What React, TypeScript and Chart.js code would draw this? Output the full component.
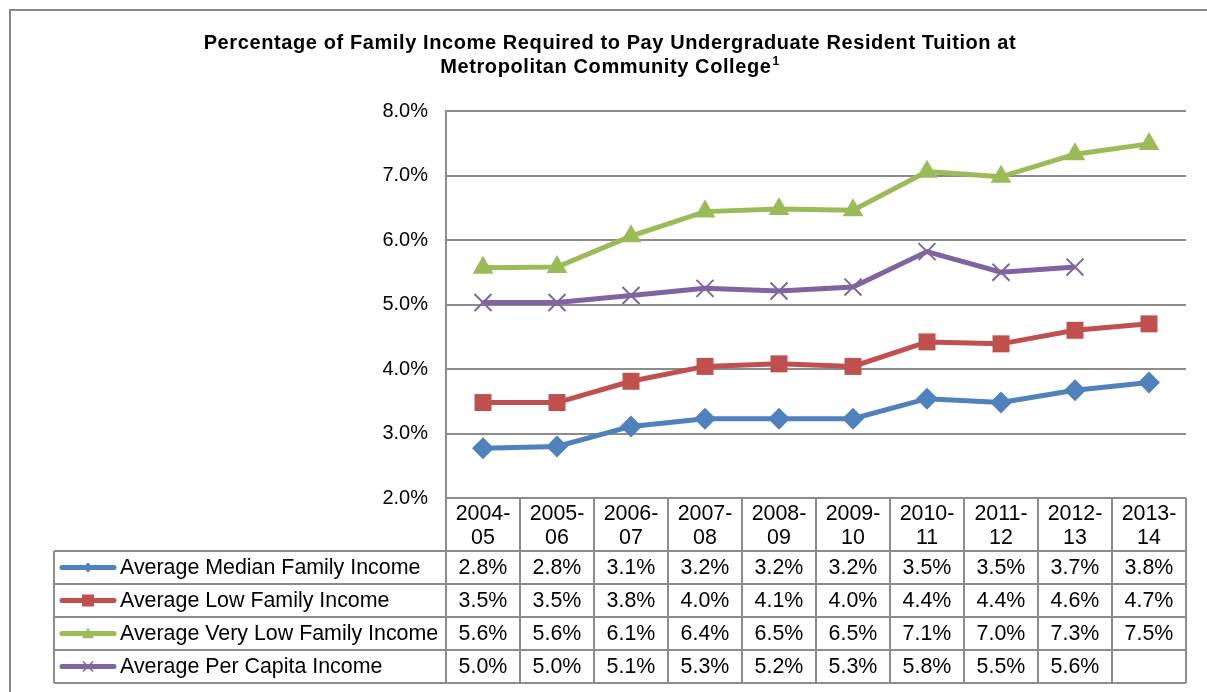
import React, { useEffect, useRef } from 'react';
import { Chart, registerables } from 'chart.js';

Chart.register(...registerables);

// ---------- data ----------
const categories = ['2004-05', '2005-06', '2006-07', '2007-08', '2008-09', '2009-10', '2010-11', '2011-12', '2012-13', '2013-14'];

const seriesNames = [
  'Average Median Family Income',
  'Average Low Family Income',
  'Average Very Low Family Income',
  'Average Per Capita Income',
];

const medianValues = [2.77, 2.8, 3.11, 3.23, 3.23, 3.23, 3.54, 3.48, 3.67, 3.79];
const lowValues = [3.48, 3.48, 3.81, 4.04, 4.08, 4.04, 4.42, 4.39, 4.6, 4.7];
const veryLowValues = [5.57, 5.58, 6.06, 6.44, 6.48, 6.46, 7.06, 6.98, 7.33, 7.49];
const perCapitaValues: (number | null)[] = [5.03, 5.03, 5.14, 5.25, 5.21, 5.27, 5.82, 5.5, 5.58, null];

const medianLabels = ['2.8%', '2.8%', '3.1%', '3.2%', '3.2%', '3.2%', '3.5%', '3.5%', '3.7%', '3.8%'];
const lowLabels = ['3.5%', '3.5%', '3.8%', '4.0%', '4.1%', '4.0%', '4.4%', '4.4%', '4.6%', '4.7%'];
const veryLowLabels = ['5.6%', '5.6%', '6.1%', '6.4%', '6.5%', '6.5%', '7.1%', '7.0%', '7.3%', '7.5%'];
const perCapitaLabels = ['5.0%', '5.0%', '5.1%', '5.3%', '5.2%', '5.3%', '5.8%', '5.5%', '5.6%', ''];

const titleLine1 = 'Percentage of Family Income Required to Pay Undergraduate Resident Tuition at';
const titleLine2 = 'Metropolitan Community College';
const titleSup = '1';

const yMin = 2;
const yMax = 8;
const yStep = 1;

// ---------- styles ----------
const FONT = '"Liberation Sans", Arial, Helvetica, sans-serif';
const GRID = '#8c8c8c';
const COLORS = ['#4F81BD', '#C0504D', '#9BBB59', '#8064A2'];
const POINT_STYLES = ['rectRot', 'rect', 'triangle', 'crossRot'];
const POINT_RADII = [11, 12, 12, 12];

const seriesValues = [medianValues, lowValues, veryLowValues, perCapitaValues];
const seriesLabels = [medianLabels, lowLabels, veryLowLabels, perCapitaLabels];

function drawMiniMarker(ctx: CanvasRenderingContext2D, style: string, x: number, y: number, color: string) {
  ctx.save();
  ctx.fillStyle = color;
  ctx.strokeStyle = color;
  ctx.beginPath();
  if (style === 'rectRot') {
    const r = 5;
    ctx.moveTo(x, y - r);
    ctx.lineTo(x + r, y);
    ctx.lineTo(x, y + r);
    ctx.lineTo(x - r, y);
    ctx.closePath();
    ctx.fill();
  } else if (style === 'rect') {
    const s = 6;
    ctx.rect(x - s, y - s, 2 * s, 2 * s);
    ctx.fill();
  } else if (style === 'triangle') {
    const r = 6;
    ctx.moveTo(x, y - r);
    ctx.lineTo(x + r, y + r * 0.8);
    ctx.lineTo(x - r, y + r * 0.8);
    ctx.closePath();
    ctx.fill();
  } else {
    const r = 5;
    ctx.lineWidth = 1.5;
    ctx.moveTo(x - r, y - r);
    ctx.lineTo(x + r, y + r);
    ctx.moveTo(x + r, y - r);
    ctx.lineTo(x - r, y + r);
    ctx.stroke();
  }
  ctx.restore();
}

const tablePlugin = {
  id: 'tableAndTitle',
  beforeDraw(chart: any) {
    const ctx: CanvasRenderingContext2D = chart.ctx;
    ctx.save();
    ctx.fillStyle = '#ffffff';
    ctx.fillRect(0, 0, chart.width, chart.height);
    ctx.strokeStyle = '#878787';
    ctx.lineWidth = 2;
    ctx.strokeRect(10, 10, chart.width + 100, chart.height + 100);
    ctx.restore();
  },
  afterDraw(chart: any) {
    const ctx: CanvasRenderingContext2D = chart.ctx;
    const area = chart.chartArea;
    const xScale = chart.scales.x;
    const n = categories.length;
    const colW = (area.right - area.left) / n;
    const headerTop = area.bottom;
    const headerBottom = headerTop + 53;
    const rowH = 33;
    const legendLeft = 54;
    const tableBottom = headerBottom + rowH * seriesNames.length;

    ctx.save();
    // title
    ctx.fillStyle = '#000';
    ctx.textBaseline = 'middle';
    ctx.textAlign = 'center';
    (ctx as any).letterSpacing = '0.6px';
    ctx.font = `bold 20px ${FONT}`;
    const cx = 610;
    ctx.fillText(titleLine1, cx, 43);
    const w2 = ctx.measureText(titleLine2).width;
    ctx.font = `bold 12px ${FONT}`;
    const ws = ctx.measureText(titleSup).width;
    const start = cx - (w2 + ws + 1) / 2;
    ctx.textAlign = 'left';
    ctx.font = `bold 20px ${FONT}`;
    ctx.fillText(titleLine2, start, 67);
    ctx.font = `bold 12px ${FONT}`;
    ctx.fillText(titleSup, start + w2 + 1, 62);
    (ctx as any).letterSpacing = '0px';

    // table grid lines
    ctx.strokeStyle = GRID;
    ctx.lineWidth = 2;
    ctx.beginPath();
    ctx.moveTo(area.left, headerTop);
    ctx.lineTo(area.right, headerTop);
    for (let r = 0; r <= seriesNames.length; r++) {
      const y = headerBottom + r * rowH;
      ctx.moveTo(legendLeft, y);
      ctx.lineTo(area.right, y);
    }
    ctx.moveTo(legendLeft, headerBottom);
    ctx.lineTo(legendLeft, tableBottom);
    for (let i = 0; i <= n; i++) {
      const x = area.left + i * colW;
      ctx.moveTo(x, headerTop);
      ctx.lineTo(x, tableBottom);
    }
    ctx.stroke();

    // header text
    ctx.fillStyle = '#000';
    ctx.font = `21.4px ${FONT}`;
    ctx.textAlign = 'center';
    ctx.textBaseline = 'middle';
    categories.forEach((c, i) => {
      const x = xScale.getPixelForValue(i);
      const dash = c.indexOf('-');
      ctx.fillText(c.slice(0, dash + 1), x, headerTop + 16);
      ctx.fillText(c.slice(dash + 1), x, headerTop + 40);
    });

    // rows
    seriesNames.forEach((name, r) => {
      const yMid = headerBottom + r * rowH + rowH / 2 + 1;
      ctx.save();
      ctx.strokeStyle = COLORS[r];
      ctx.lineWidth = 5;
      ctx.lineCap = 'round';
      ctx.beginPath();
      ctx.moveTo(62, yMid - 1);
      ctx.lineTo(114, yMid - 1);
      ctx.stroke();
      ctx.restore();
      drawMiniMarker(ctx, POINT_STYLES[r], 88, yMid - 1, COLORS[r]);
      ctx.fillStyle = '#000';
      ctx.textAlign = 'left';
      ctx.fillText(name, 120, yMid);
      ctx.textAlign = 'center';
      seriesLabels[r].forEach((lab, i) => {
        if (lab) ctx.fillText(lab, xScale.getPixelForValue(i), yMid);
      });
    });
    ctx.restore();
  },
};

export default function App() {
  const canvasRef = useRef<HTMLCanvasElement | null>(null);

  useEffect(() => {
    const canvas = canvasRef.current;
    if (!canvas) return;
    const chart = new Chart(canvas, {
      type: 'line',
      data: {
        labels: categories,
        datasets: seriesNames.map((name, i) => ({
          label: name,
          data: seriesValues[i] as any,
          borderColor: COLORS[i],
          backgroundColor: COLORS[i],
          borderWidth: 5,
          tension: 0,
          pointStyle: POINT_STYLES[i] as any,
          pointRadius: POINT_RADII[i],
          pointHoverRadius: POINT_RADII[i],
          pointBackgroundColor: COLORS[i],
          pointBorderColor: COLORS[i],
          pointBorderWidth: i === 3 ? 2 : 0,
          spanGaps: false,
          clip: false as any,
        })),
      },
      options: {
        responsive: false,
        animation: false,
        devicePixelRatio: 1,
        layout: { padding: { top: 111, right: 21, left: 0, bottom: 0 } },
        plugins: {
          legend: { display: false },
          title: { display: false },
          tooltip: { enabled: false },
        },
        scales: {
          x: {
            type: 'category',
            offset: true,
            grid: { display: false, drawTicks: false },
            border: { display: false },
            ticks: { display: false },
            afterFit: (scale: any) => {
              scale.height = 194;
            },
          },
          y: {
            min: yMin,
            max: yMax,
            ticks: {
              stepSize: yStep,
              padding: 18,
              color: '#000',
              font: { family: FONT, size: 20 },
              callback: (v: any) => Number(v).toFixed(1) + '%',
            },
            grid: { color: GRID, lineWidth: 2, drawTicks: false },
            border: { display: true, color: GRID, width: 2 },
            afterFit: (scale: any) => {
              scale.width = 446;
            },
          },
        },
      },
      plugins: [tablePlugin],
    });
    return () => chart.destroy();
  }, []);

  return (
    <div style={{ position: 'fixed', left: 0, top: 0, width: 1207, height: 692, background: '#fff' }}>
      <canvas ref={canvasRef} width={1207} height={692} style={{ display: 'block' }} />
    </div>
  );
}
